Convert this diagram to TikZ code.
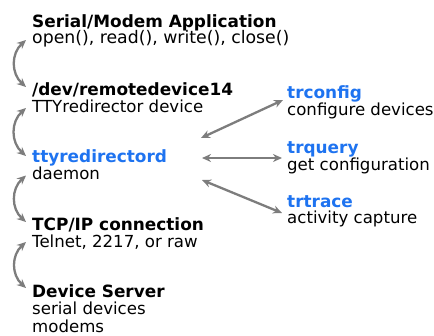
\documentclass[tikz,border=0pt]{standalone}
\usepackage{fontspec}
\setmainfont{DejaVu Sans}
\usetikzlibrary{arrows.meta}
\definecolor{tblue}{RGB}{30,115,240}
\definecolor{agray}{RGB}{125,125,125}
\begin{document}
\begin{tikzpicture}[x=1pt,y=1pt,
  txt/.style={inner sep=0pt, anchor=base west, font=\fontsize{16.6}{16.6}\selectfont},
  ttl/.style={txt, font=\fontsize{16.9}{16.9}\selectfont\bfseries},
  ttlb/.style={ttl, text=tblue},
  sub/.style={txt},
  subw/.style={txt, font=\fontsize{17.3}{17.3}\selectfont},
  conn/.style={agray, line width=2.3pt, {Stealth[length=9pt,width=8pt]}-{Stealth[length=9pt,width=8pt]}},
  lconn/.style={conn, out=222, in=138, looseness=1.1}]
\useasboundingbox (0,0) rectangle (434,-335);
% left column
\node[ttl]  (appT) at (32,-27)    {Serial/Modem Application};
\node[subw] (appS) at (32,-43.5)  {open(), read(), write(), close()};
\node[ttl]  (devT) at (32,-95)    {/dev/remotedevice14};
\node[sub]  (devS) at (32,-112)   {TTYredirector device};
\node[ttlb] (ttyT) at (32,-162)   {ttyredirectord};
\node[sub]  (ttyS) at (32,-179.5) {daemon};
\node[ttl]  (tcpT) at (32,-230)   {TCP/IP connection};
\node[sub]  (tcpS) at (32,-247)   {Telnet, 2217, or raw};
\node[ttl]  (srvT) at (32,-297)   {Device Server};
\node[sub]  (srvS) at (32,-314.5) {serial devices};
\node[sub]  (srvM) at (32,-332)   {modems};
% right column
\node[ttlb] (cfgT) at (287,-98)    {trconfig};
\node[sub]  (cfgS) at (287,-115)   {configure devices};
\node[ttlb] (qryT) at (287,-153)   {trquery};
\node[sub]  (qryS) at (287,-170)   {get configuration};
\node[ttlb] (trcT) at (287,-207)   {trtrace};
\node[sub]  (trcS) at (287,-223.5) {activity capture};
% left curved connectors
\draw[lconn] ([shift={(-6,3.5)}]appS.base west) to ([shift={(-6,8)}]devT.base west);
\draw[lconn] ([shift={(-6,4)}]devS.base west) to ([shift={(-6,6)}]ttyT.base west);
\draw[lconn] ([shift={(-6,4)}]ttyS.base west) to ([shift={(-6,8)}]tcpT.base west);
\draw[lconn] ([shift={(-6,5)}]tcpS.base west) to ([shift={(-6,9)}]srvT.base west);
% right connectors (daemon side ends are free coordinates beside ttyredirectord)
\coordinate (hubA) at ([shift={(169,24)}]ttyT.base west);
\coordinate (hubB) at ([shift={(170,4)}]ttyT.base west);
\coordinate (hubC) at ([shift={(170,-18)}]ttyT.base west);
\draw[conn] (hubA) -- ([shift={(-4,-2)}]cfgT.base west);
\draw[conn] (hubB) -- ([shift={(-5,-5)}]qryT.base west);
\draw[conn] (hubC) -- ([shift={(-5,-6)}]trcT.base west);
\end{tikzpicture}
\end{document}
